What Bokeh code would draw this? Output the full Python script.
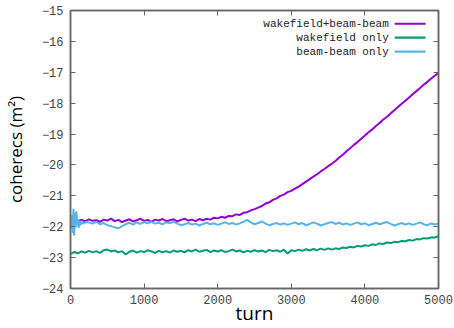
from bokeh.plotting import figure
from bokeh.models import LinearAxis, Range1d, FixedTicker, Label, BoxAnnotation
from bokeh.embed import file_html
from bokeh.resources import INLINE

# ---------------- data ----------------
turns = list(range(0, 5001, 50))

wake_bb = [
    -21.90, -21.85, -21.82, -21.78, -21.83, -21.76, -21.81, -21.79, -21.84, -21.77,
    -21.80, -21.74, -21.82, -21.78, -21.85, -21.80, -21.76, -21.83, -21.79, -21.74,
    -21.81, -21.78, -21.84, -21.77, -21.80, -21.75, -21.82, -21.79, -21.76, -21.83,
    -21.78, -21.74, -21.80, -21.77, -21.82, -21.75, -21.79, -21.74, -21.77, -21.71,
    -21.73, -21.68, -21.71, -21.65, -21.66, -21.60, -21.62, -21.55, -21.53, -21.47,
    -21.43, -21.38, -21.33, -21.25, -21.21, -21.13, -21.08, -21.00, -20.96, -20.88,
    -20.84, -20.77, -20.70, -20.62, -20.54, -20.46, -20.38, -20.30, -20.21, -20.13,
    -20.04, -19.96, -19.87, -19.76, -19.67, -19.56, -19.46, -19.35, -19.26, -19.15,
    -19.05, -18.94, -18.85, -18.74, -18.64, -18.53, -18.44, -18.33, -18.23, -18.12,
    -18.02, -17.92, -17.82, -17.71, -17.61, -17.51, -17.40, -17.31, -17.20, -17.11,
    -17.02,
]

wake_only = [
    -22.88, -22.82, -22.86, -22.80, -22.84, -22.78, -22.83, -22.79, -22.85, -22.76,
    -22.74, -22.80, -22.77, -22.83, -22.79, -22.90, -22.81, -22.77, -22.84, -22.79,
    -22.82, -22.76, -22.80, -22.85, -22.78, -22.83, -22.79, -22.84, -22.77, -22.81,
    -22.78, -22.83, -22.76, -22.80, -22.74, -22.81, -22.78, -22.75, -22.82, -22.77,
    -22.80, -22.76, -22.82, -22.79, -22.74, -22.80, -22.77, -22.83, -22.78, -22.81,
    -22.76, -22.80, -22.77, -22.82, -22.75, -22.79, -22.76, -22.81, -22.74, -22.87,
    -22.76, -22.79, -22.74, -22.78, -22.73, -22.77, -22.72, -22.76, -22.71, -22.75,
    -22.70, -22.74, -22.70, -22.72, -22.67, -22.69, -22.65, -22.67, -22.62, -22.64,
    -22.60, -22.62, -22.57, -22.59, -22.54, -22.56, -22.51, -22.53, -22.49, -22.50,
    -22.46, -22.47, -22.43, -22.45, -22.40, -22.41, -22.37, -22.38, -22.35, -22.35,
    -22.31,
]

bb_turns = list(range(0, 200, 10)) + list(range(200, 5001, 50))
bb_only = [
    -21.85, -22.05, -21.62, -22.20, -21.42, -22.28, -21.55, -22.02, -21.50, -21.95,
    -21.75, -22.05, -21.80, -21.95, -21.84, -21.92, -21.84, -21.90, -21.86, -21.90,
    -21.85, -21.86, -21.90, -21.84, -21.92, -21.88,
    -21.95, -21.98, -22.02, -22.05, -21.98, -21.92, -21.87, -21.93, -21.86, -21.91,
    -21.85, -21.89, -21.84, -21.90, -21.87, -21.92, -21.86, -21.89, -21.84, -21.90,
    -21.95, -21.92, -21.88, -21.93, -21.90, -21.96, -21.91, -21.87, -21.92, -21.89,
    -21.94, -21.90, -21.86, -21.91, -21.88, -21.93, -21.89, -21.84, -21.78, -21.86,
    -21.92, -21.88, -21.83, -21.90, -21.95, -21.91, -21.88, -21.93, -21.89, -21.94,
    -21.90, -21.86, -21.92, -21.88, -21.95, -21.91, -21.86, -21.90, -21.96, -21.92,
    -21.88, -21.85, -21.91, -21.87, -21.93, -21.89, -21.94, -21.90, -21.86, -21.92,
    -21.89, -21.95, -21.91, -21.87, -21.92, -21.88, -21.85, -21.91, -21.96, -21.92,
    -21.88, -21.93, -21.89, -21.94, -21.90, -21.86, -21.92, -21.95, -21.89, -21.93,
    -21.90,
]

series_names = ["wakefield+beam-beam", "wakefield only", "beam-beam only"]
series_colors = ["#9400D3", "#009E73", "#56B4E9"]

x_ticks = [0, 1000, 2000, 3000, 4000, 5000]
y_ticks = [-24, -23, -22, -21, -20, -19, -18, -17, -16, -15]

# ---------------- figure ----------------
AX = "#666666"
TICK_FONT = "Liberation Mono"

p = figure(width=454, height=328,
           x_range=Range1d(0, 5000), y_range=Range1d(-24, -15),
           output_backend="svg", toolbar_location=None,
           min_border_left=68, min_border_right=16,
           min_border_top=10, min_border_bottom=40)
p.background_fill_color = "white"
p.border_fill_color = "white"
p.grid.visible = False
p.outline_line_color = AX
p.outline_line_width = 1.5

for ax in (p.xaxis[0], p.yaxis[0]):
    ax.axis_line_color = AX
    ax.axis_line_width = 1.5
    ax.major_tick_line_color = AX
    ax.major_tick_line_width = 1
    ax.major_tick_in = 5
    ax.major_tick_out = 0
    ax.minor_tick_line_color = None
    ax.major_label_text_font = TICK_FONT
    ax.major_label_text_font_size = "12px"
    ax.major_label_text_color = "#444444"
    ax.axis_label_text_font = "Open Sans"
    ax.axis_label_text_font_style = "normal"
    ax.axis_label_text_color = "black"

p.xaxis.ticker = FixedTicker(ticks=x_ticks)
p.yaxis.ticker = FixedTicker(ticks=y_ticks)
p.xaxis.major_label_standoff = 6
p.yaxis.major_label_standoff = 7
p.xaxis.axis_label = "turn"
p.xaxis.axis_label_text_font_size = "19px"
p.xaxis.axis_label_standoff = -7
p.yaxis.axis_label = "coherecs (m\u00b2)"
p.yaxis.axis_label_text_font_size = "17px"
p.yaxis.axis_label_standoff = 12

# mirrored tick marks on top and right (no labels)
top = LinearAxis(ticker=FixedTicker(ticks=x_ticks), major_label_text_color=None,
                 major_tick_in=5, major_tick_out=0, major_tick_line_color=AX,
                 minor_tick_line_color=None, axis_line_color=AX, axis_line_width=1.5,
                 major_label_standoff=0)
right = LinearAxis(ticker=FixedTicker(ticks=y_ticks), major_label_text_color=None,
                   major_tick_in=5, major_tick_out=0, major_tick_line_color=AX,
                   minor_tick_line_color=None, axis_line_color=AX, axis_line_width=1.5,
                   major_label_standoff=0)
p.add_layout(top, "above")
p.add_layout(right, "right")

# data lines
p.line(turns, wake_bb, line_color=series_colors[0], line_width=2)
p.line(turns, wake_only, line_color=series_colors[1], line_width=2)
p.line(bb_turns, bb_only, line_color=series_colors[2], line_width=2)

# gnuplot-style key (text right-aligned, sample line to the right)
key_y = [-15.43, -15.88, -16.33]
for name, col, ky in zip(series_names, series_colors, key_y):
    p.add_layout(Label(x=4324, y=ky, text=name, text_align="right",
                       text_baseline="middle", text_font=TICK_FONT,
                       text_font_size="11px", text_color="#222222"))
    p.add_layout(BoxAnnotation(left=4405, right=4824, bottom=ky - 0.035, top=ky + 0.035,
                               fill_color=col, fill_alpha=1, line_alpha=0))

open("out.html", "w").write(file_html(p, INLINE))
